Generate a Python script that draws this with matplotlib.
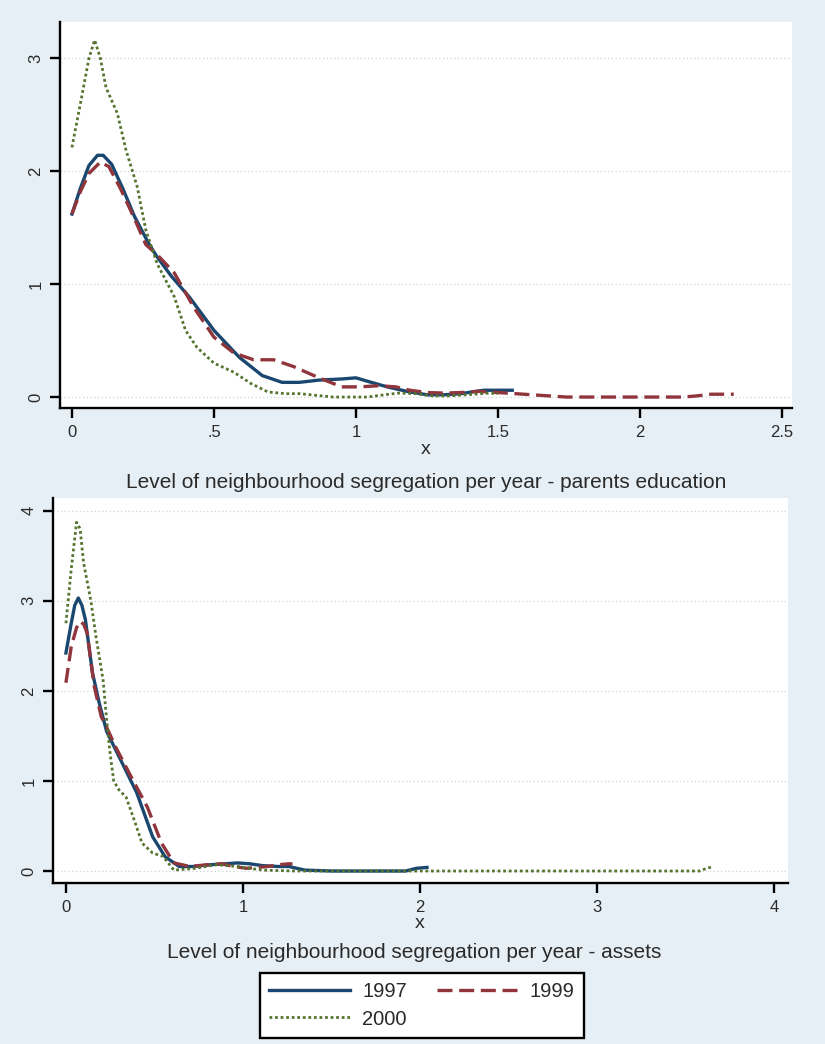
import numpy as np
import matplotlib
matplotlib.use('Agg')
import matplotlib.pyplot as plt

plt.rcParams['font.family'] = ['Liberation Sans', 'DejaVu Sans']

# kernel density estimates, parents education
edu_x_1997 = [0, .03, .06, .09, .11, .14, .18, .22, .27, .3, .35, .415, .5, .59, .67, .74, .8, .87,
              .95, 1.0, 1.04, 1.11, 1.18, 1.25, 1.31, 1.37, 1.42, 1.45, 1.55]
edu_y_1997 = [1.62, 1.85, 2.05, 2.14, 2.14, 2.06, 1.84, 1.6, 1.36, 1.24, 1.07, .88, .59, .35, .19, .13, .13, .15,
              .16, .17, .14, .09, .05, .02, .02, .03, .05, .06, .06]

edu_x_1999 = [0, .03, .06, .1, .13, .17, .22, .26, .3, .36, .43, .5, .57, .64, .71, .78, .87, .92, .95, 1.01,
              1.08, 1.14, 1.19, 1.25, 1.31, 1.37, 1.43, 1.5, 1.62, 1.74, 1.9, 2.05, 2.15, 2.2, 2.25, 2.33]
edu_y_1999 = [1.62, 1.82, 1.98, 2.08, 2.04, 1.85, 1.58, 1.35, 1.26, 1.1, .79, .53, .39, .33, .33, .27, .17, .12, .09, .09,
              .1, .09, .06, .04, .035, .04, .05, .04, .02, 0.0, 0.0, 0.0, 0.0, .01, .025, .025]

edu_x_2000 = [0, .03, .06, .08, .1, .12, .16, .19, .23, .26, .3, .36, .4, .44, .5, .57, .63, .69, .75, .8,
              .92, 1.04, 1.1, 1.15, 1.21, 1.27, 1.33, 1.39, 1.47, 1.5]
edu_y_2000 = [2.21, 2.6, 3.0, 3.16, 3.0, 2.74, 2.51, 2.19, 1.86, 1.48, 1.18, .89, .59, .44, .3, .22, .12, .045, .03, .03,
              0.0, 0.0, .02, .035, .03, .01, .01, .02, .035, .03]

# kernel density estimates, assets
ast_x_1997 = [0, .03, .05, .07, .09, .11, .15, .19, .23, .28, .33, .4, .49, .56, .64, .72, .82, .9, .97,
              1.04, 1.11, 1.2, 1.26, 1.35, 1.5, 1.7, 1.92, 1.98, 2.04]
ast_y_1997 = [2.42, 2.75, 2.95, 3.03, 2.95, 2.79, 2.2, 1.85, 1.55, 1.35, 1.15, .87, .38, .16, .05, .05, .07, .08, .09,
              .08, .06, .05, .05, .01, 0, 0, 0, .03, .04]

ast_x_1999 = [0, .03, .06, .08, .1, .12, .16, .2, .22, .28, .37, .46, .54, .61, .7, .8, .88, .95, 1.02,
              1.08, 1.14, 1.2, 1.26, 1.28]
ast_y_1999 = [2.09, 2.49, 2.7, 2.77, 2.74, 2.64, 2.05, 1.71, 1.64, 1.38, 1.04, .71, .31, .09, .05, .07, .08, .05, .03,
              .04, .05, .07, .08, .08]

ast_x_2000 = [0, .03, .06, .08, .1, .14, .17, .21, .23, .25, .27, .3, .34, .38, .43, .49, .55, .61, .67, .73,
              .85, .97, 1.04, 1.11, 1.3, 2.0, 3.0, 3.58, 3.62, 3.65]
ast_y_2000 = [2.75, 3.35, 3.87, 3.8, 3.42, 3.01, 2.6, 2.12, 1.68, 1.3, 1.0, .9, .82, .6, .31, .2, .16, .01, .02, .03,
              .07, .05, .03, .01, 0, 0, 0, 0, .03, .045]

years = ['1997', '1999', '2000']
colors = ['#1a476f', '#90353b', '#55752f']
styles = ['-', (0, (4.5, 2)), (0, (1, 1))]
widths = [2.4, 2.4, 2.0]

bg = '#e6eff5'
txt = '#2a2a2a'

fig = plt.figure(figsize=(8.25, 10.44), dpi=100, facecolor=bg)
W, H = 825, 1044


def px_axes(l, t, r, b):
    return fig.add_axes([l / W, 1 - b / H, (r - l) / W, (b - t) / H])


def style_axes(ax, xlim, ylim, xticks, xlabels, yticks):
    ax.set_facecolor('white')
    ax.set_xlim(*xlim)
    ax.set_ylim(*ylim)
    ax.set_xticks(xticks)
    ax.set_xticklabels(xlabels)
    ax.set_yticks(yticks)
    ax.set_yticklabels([str(v) for v in yticks], rotation=90, va='center')
    for s in ['top', 'right']:
        ax.spines[s].set_visible(False)
    for s in ['left', 'bottom']:
        ax.spines[s].set_linewidth(1.7)
        ax.spines[s].set_color('black')
    ax.tick_params(axis='both', direction='out', length=7, width=1.7, labelsize=12,
                   labelcolor=txt, pad=5)
    for v in yticks:
        ax.axhline(v, color='#cbd4da', lw=0.9, ls=(0, (1, 2)), zorder=0)


ax1 = px_axes(60, 22, 792, 408)
series1 = [(edu_x_1997, edu_y_1997), (edu_x_1999, edu_y_1999), (edu_x_2000, edu_y_2000)]
for (xs, ys), c, ls, lw, yr in zip(series1, colors, styles, widths, years):
    ax1.plot(xs, ys, color=c, ls=ls, lw=lw, label=yr)
style_axes(ax1, (-0.042, 2.535), (-0.097, 3.32), [0, .5, 1, 1.5, 2, 2.5],
           ['0', '.5', '1', '1.5', '2', '2.5'], [0, 1, 2, 3])

ax2 = px_axes(53, 498, 788, 883)
series2 = [(ast_x_1997, ast_y_1997), (ast_x_1999, ast_y_1999), (ast_x_2000, ast_y_2000)]
handles = []
for (xs, ys), c, ls, lw, yr in zip(series2, colors, styles, widths, years):
    h, = ax2.plot(xs, ys, color=c, ls=ls, lw=lw, label=yr)
    handles.append(h)
style_axes(ax2, (-0.073, 4.08), (-0.133, 4.14), [0, 1, 2, 3, 4],
           ['0', '1', '2', '3', '4'], [0, 1, 2, 3, 4])

# axis titles and captions under each panel
fig.text(426 / W, 1 - 450 / H, 'x', ha='center', va='center', fontsize=14, color=txt)
fig.text(426 / W, 1 - 482 / H, 'Level of neighbourhood segregation per year - parents education',
         ha='center', va='center', fontsize=15, color=txt)
fig.text(420 / W, 1 - 923 / H, 'x', ha='center', va='center', fontsize=14, color=txt)
fig.text(414 / W, 1 - 952 / H, 'Level of neighbourhood segregation per year - assets',
         ha='center', va='center', fontsize=15, color=txt)

# legend filled row by row: 1997, 1999 / 2000
order = [0, 2, 1]
leg = fig.legend([handles[i] for i in order], [years[i] for i in order], loc='center',
                 bbox_to_anchor=(422 / W, 1 - 1005.5 / H), ncol=2,
                 fontsize=14.5, frameon=True, fancybox=False, edgecolor='black', framealpha=1,
                 handlelength=4.0, columnspacing=1.5, handletextpad=0.6, borderpad=0.45,
                 labelspacing=0.4, borderaxespad=0)
leg.get_frame().set_linewidth(1.7)
for t in leg.get_texts():
    t.set_color(txt)

fig.savefig('out.png', dpi=100, facecolor=bg)
